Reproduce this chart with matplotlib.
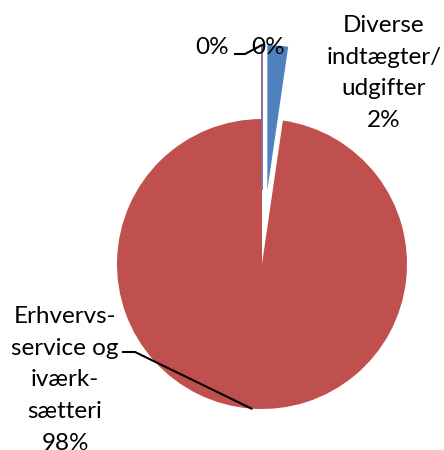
import math
import matplotlib
matplotlib.use("Agg")
import matplotlib.pyplot as plt

plt.rcParams['font.family'] = ['Lato', 'DejaVu Sans']

# data
kategorier = ["Diverse\nindtægter/\nudgifter", "Erhvervs-\nservice og\niværk-\nsætteri", "", ""]
andele = [2.3, 97.7, 0.0, 0.0]
farver = ["#4F81BD", "#C0504D", "#9BBB59", "#8064A2"]
udtraek = [74, 0, 74, 74]

fig = plt.figure(figsize=(4.44, 4.5), dpi=100)
ax = fig.add_axes([0, 0, 1, 1])

cx, cy, r = 262, 186, 145
wedges, _ = ax.pie(andele, colors=farver, explode=udtraek, startangle=90,
                   counterclock=False, radius=r, center=(cx, cy),
                   normalize=True, frame=True)
ax.set_xlim(0, 444)
ax.set_ylim(0, 450)
ax.set_aspect("equal")
ax.axis("off")
for w in wedges[2:]:
    w.set_edgecolor(w.get_facecolor())
    w.set_linewidth(1.2)

fs = 17.5
line = 1.62


def pct(v):
    return "%.0f%%" % v


# blue label
ax.text(384, 450 - 73, kategorier[0] + "\n" + pct(andele[0]), ha="center", va="center",
        fontsize=fs, linespacing=line)

# red label with leader
w = wedges[1]
tm = math.radians((w.theta1 + w.theta2) / 2)
wx, wy = w.center
ex, ey = wx + r * math.cos(tm), wy + r * math.sin(tm)
ax.text(65, 450 - 380, kategorier[1] + "\n" + pct(andele[1]), ha="center", va="center",
        fontsize=fs, linespacing=line)
ax.plot([123, 135, ex], [450 - 352, 450 - 352, ey], color="black", lw=1.5)

# 0% labels
w = wedges[3]
tm = math.radians(w.theta1)
wx, wy = w.center
tx, ty = wx + r * math.cos(tm), wy + r * math.sin(tm)
ax.text(212, 450 - 47, pct(andele[2]), ha="center", va="center", fontsize=fs)
ax.plot([235, 245, tx], [450 - 54, 450 - 54, ty], color="black", lw=1.5)
ax.text(268, 450 - 47, pct(andele[3]), ha="center", va="center", fontsize=fs)

fig.savefig("out.png", dpi=100)
